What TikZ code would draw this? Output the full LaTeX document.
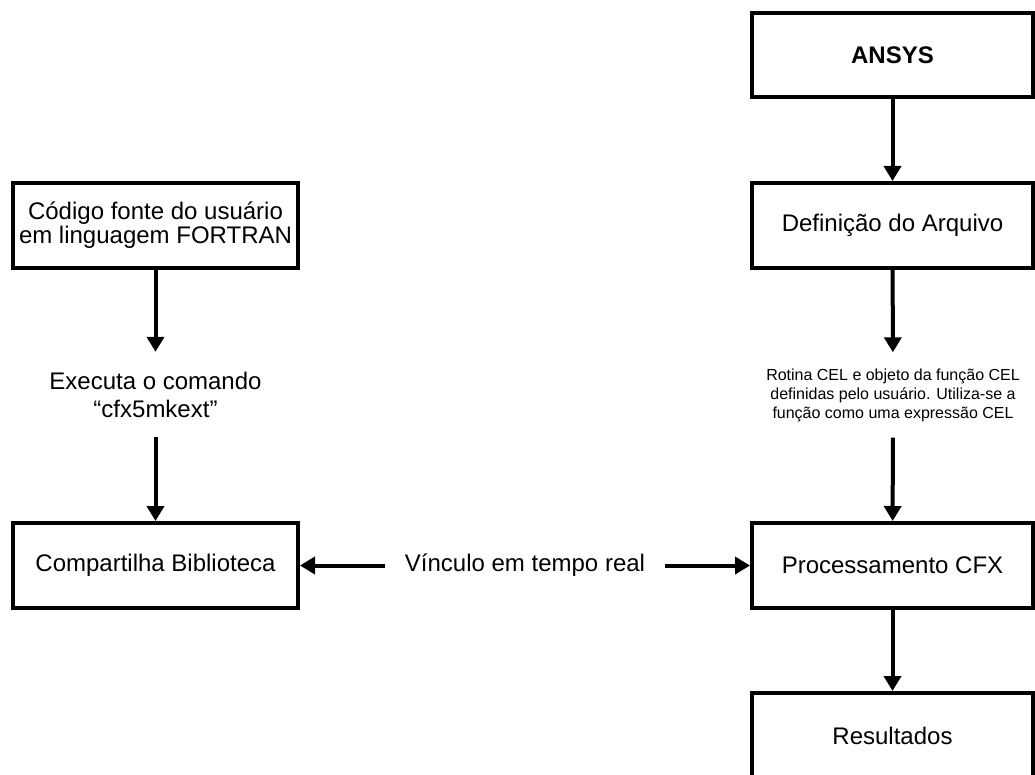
\documentclass[tikz,border=0pt]{standalone}
\usepackage{fontspec}
\setmainfont{Liberation Sans}
\usetikzlibrary{arrows.meta}
\tikzset{
  box/.style={draw=black, line width=4pt, fill=white, inner sep=0pt, align=center,
    font=\fontsize{24}{27}\selectfont},
  lbl/.style={inner sep=0pt, align=center, font=\fontsize{24}{28}\selectfont},
  small/.style={inner sep=0pt, align=center, font=\fontsize{16}{19}\selectfont},
  arr/.style={line width=4pt, -{Triangle[width=17pt,length=15pt]}}
}
\begin{document}
\begin{tikzpicture}[x=1pt,y=-1pt]
\useasboundingbox (0,0) rectangle (1035,775);
\clip (0,0) rectangle (1035,775);
\fill[white] (0,0) rectangle (1035,775);
% right column
\node[box, minimum width=281pt, minimum height=84pt] (ansys) at (892.5,55) {\textbf{ANSYS}};
\node[box, minimum width=281pt, minimum height=85pt] (def) at (892.5,225.5) {Definição do Arquivo};
\node[small, minimum height=85pt] (rot) at (893,395) {Rotina CEL e objeto da função CEL\\definidas pelo usuário. Utiliza-se a\\função como uma expressão CEL};
\node[box, minimum width=281pt, minimum height=85pt] (proc) at (892.5,565.5) {Processamento CFX};
\node[box, minimum width=281pt, minimum height=85pt] (res) at (892.5,735.5) {Resultados};
% left column
\node[box, minimum width=285pt, minimum height=85pt, font=\fontsize{24}{24}\selectfont] (code) at (155.5,225.5) {Código fonte do usuário\\em linguagem FORTRAN};
\node[lbl, minimum height=85pt] (exec) at (155.5,394.5) {Executa o comando\\“cfx5mkext”};
\node[box, minimum width=285pt, minimum height=85pt] (comp) at (155.5,565.5) {Compartilha Biblioteca};
% middle label
\node[lbl, minimum width=280pt, text height=17pt, text depth=5pt] (link) at (525,565.5) {Vínculo em tempo real};
% connectors
\draw[arr] (ansys) -- (def);
\draw[arr] (def) -- (rot);
\draw[arr] (rot) -- (proc);
\draw[arr] (proc) -- (res);
\draw[arr] (code) -- (exec);
\draw[arr] (exec) -- (comp);
\draw[arr] (link.west) -- (comp.east);
\draw[arr] (link.east) -- (proc.west);
\end{tikzpicture}
\end{document}
